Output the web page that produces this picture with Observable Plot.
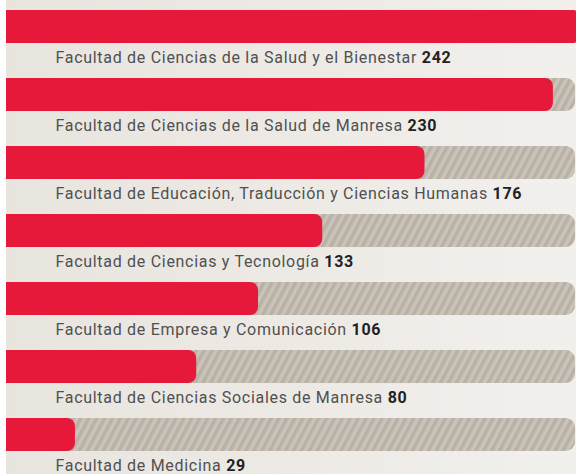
<!DOCTYPE html>
<html>
<head>
<meta charset="utf-8">
<script src="https://cdn.jsdelivr.net/npm/d3@7"></script>
<script src="https://cdn.jsdelivr.net/npm/@observablehq/plot@0.6"></script>
<style>
  html, body { margin: 0; padding: 0; }
  body { width: 576px; height: 474px; overflow: hidden;
         background: linear-gradient(to right, #ffffff 0px, #ffffff 6px, #e8e4de 6px, #f2f0ed 100%); }
  svg { background: transparent !important; }
</style>
</head>
<body>
<div id="chart"></div>
<script>
const faculties = [
  "Facultad de Ciencias de la Salud y el Bienestar",
  "Facultad de Ciencias de la Salud de Manresa",
  "Facultad de Educación, Traducción y Ciencias Humanas",
  "Facultad de Ciencias y Tecnología",
  "Facultad de Empresa y Comunicación",
  "Facultad de Ciencias Sociales de Manresa",
  "Facultad de Medicina"
];
const values = [242, 230, 176, 133, 106, 80, 29];
const trackMax = 239.3;

const data = faculties.map((name, i) => ({name, value: values[i]}));

const plot = Plot.plot({
  width: 576,
  height: 474,
  margin: 0,
  x: {domain: [0, trackMax], range: [6, 575], axis: null},
  y: {domain: faculties, range: [9, 452.4], paddingInner: 0.517, paddingOuter: 0, axis: null},
  style: {background: "transparent", fontFamily: "Roboto, sans-serif"},
  marks: [
    // hatched track
    Plot.barX(data, {x1: 0, x2: trackMax, y: "name", fill: "url(#stripes)", rx: 9}),
    Plot.barX(data, {x1: 0, x2: trackMax / 2, y: "name", fill: "url(#stripes)"}),
    // red value bar
    Plot.barX(data, {x1: 0, x2: "value", y: "name", fill: "#e6193b", rx: 8}),
    Plot.barX(data, {x1: 0, x2: d => d.value / 2, y: "name", fill: "#e6193b"}),
    // labels
    Plot.text(data, {
      x: 0, y: "name", text: d => d.name + " " + d.value,
      textAnchor: "start", dx: 49, dy: 31,
      fill: "#505050", fontSize: 16
    })
  ]
});

// stripes pattern
const svg = d3.select(plot);
const defs = svg.insert("defs", ":first-child");
const pat = defs.append("pattern")
  .attr("id", "stripes")
  .attr("patternUnits", "userSpaceOnUse")
  .attr("width", 7).attr("height", 7)
  .attr("patternTransform", "rotate(28)");
pat.append("rect").attr("width", 7).attr("height", 7).attr("fill", "#cac3b9");
pat.append("rect").attr("width", 3.5).attr("height", 7).attr("fill", "#b9b1a5");

// bold numbers
svg.selectAll("text").each(function() {
  const t = this.textContent;
  const k = t.lastIndexOf(" ");
  if (k < 0) return;
  const sel = d3.select(this);
  sel.attr("letter-spacing", "0.7px");
  sel.text(t.slice(0, k + 1));
  sel.append("tspan").attr("font-weight", "bold").attr("fill", "#222").text(t.slice(k + 1));
});

document.getElementById("chart").appendChild(plot);
</script>
</body>
</html>
